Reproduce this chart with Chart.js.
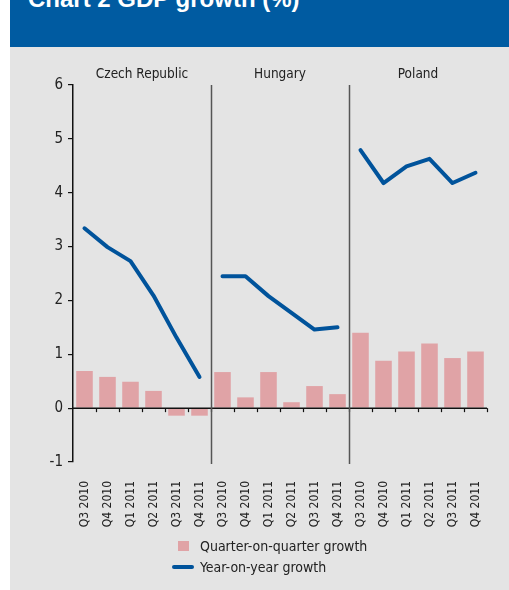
<!DOCTYPE html>
<html>
<head>
<meta charset="utf-8">
<script src="https://cdn.jsdelivr.net/npm/chart.js@4.4.1/dist/chart.umd.min.js"></script>
<style>
  body { margin: 0; width: 509px; height: 590px; background: #fff; position: relative; overflow: hidden; font-family: 'Liberation Sans Narrow', 'DejaVu Sans Condensed', sans-serif; }
  #cabecera { position: absolute; left: 10px; top: 0; width: 499px; height: 47px; background: #005ba1; overflow: hidden; }
  #cabecera span { position: absolute; left: 18px; top: -15px; color: #fff; font: bold 24px 'Liberation Sans', sans-serif; white-space: nowrap; }
  #panel { position: absolute; left: 10px; top: 47px; width: 499px; height: 543px; background: #e4e4e4; }
  #caja { position: absolute; left: 0; top: 0; width: 499px; height: 500px; }
  #leyenda { position: absolute; left: 162px; top: 488px; font-size: 14px; color: #222; }
  .item { display: flex; align-items: center; height: 21px; }
  .muestra { width: 22px; height: 21px; display: flex; align-items: center; justify-content: center; margin-right: 6px; }
</style>
</head>
<body>
<div id="cabecera"><span>Chart 2 GDP growth (%)</span></div>
<div id="panel">
  <div id="caja"><canvas id="grafica"></canvas></div>
  <div id="leyenda"></div>
</div>
<script>
const quarters = ['Q3 2010', 'Q4 2010', 'Q1 2011', 'Q2 2011', 'Q3 2011', 'Q4 2011'];
const countries = ['Czech Republic', 'Hungary', 'Poland'];

// quarter-on-quarter growth (bars)
const qoqCzech = [0.69, 0.58, 0.49, 0.32, -0.14, -0.14];
const qoqHungary = [0.67, 0.20, 0.67, 0.11, 0.41, 0.26];
const qoqPoland = [1.40, 0.88, 1.05, 1.20, 0.93, 1.05];

// year-on-year growth (line)
const yoyCzech = [3.34, 2.99, 2.73, 2.09, 1.31, 0.58];
const yoyHungary = [2.45, 2.45, 2.08, 1.77, 1.46, 1.50];
const yoyPoland = [4.79, 4.18, 4.49, 4.63, 4.18, 4.37];

const yMin = -1;
const yMax = 6;

const azul = '#00539b';
const rosa = '#e0a3a6';
const fuente = "'Liberation Sans Narrow', 'DejaVu Sans Condensed', sans-serif";

const etiquetas = countries.flatMap(() => quarters);
const barras = [...qoqCzech, ...qoqHungary, ...qoqPoland];
const linea = [...yoyCzech, ...yoyHungary, ...yoyPoland];

// linea de cero, marcas, separadores y nombres de pais
const grupos = {
  id: 'grupos',
  afterDatasetsDraw(chart) {
    const { ctx, chartArea, scales: { x, y } } = chart;
    const paso = x.getPixelForValue(1) - x.getPixelForValue(0);
    const y0 = y.getPixelForValue(0);
    ctx.save();
    ctx.strokeStyle = '#111';
    ctx.lineWidth = 1.5;
    ctx.beginPath();
    ctx.moveTo(chartArea.left, y0);
    ctx.lineTo(chartArea.right, y0);
    ctx.stroke();

    ctx.lineWidth = 1.2;
    for (let i = 1; i <= etiquetas.length; i++) {
      const px = Math.round(x.getPixelForValue(i - 1) + paso / 2) + 0.5;
      ctx.beginPath();
      ctx.moveTo(px, y0);
      ctx.lineTo(px, y0 + 4);
      ctx.stroke();
    }

    ctx.strokeStyle = '#555';
    ctx.lineWidth = 1.5;
    for (let g = 1; g < countries.length; g++) {
      const px = Math.round(x.getPixelForValue(g * quarters.length - 1) + paso / 2) + 0.5;
      ctx.beginPath();
      ctx.moveTo(px, chartArea.top);
      ctx.lineTo(px, chartArea.bottom + 2);
      ctx.stroke();
    }

    ctx.fillStyle = '#222';
    ctx.font = '13.5px ' + fuente;
    ctx.textAlign = 'center';
    ctx.textBaseline = 'middle';
    countries.forEach((pais, g) => {
      const cx = (x.getPixelForValue(g * quarters.length) + x.getPixelForValue((g + 1) * quarters.length - 1)) / 2;
      ctx.fillText(pais, cx, chartArea.top - 11);
    });
    ctx.restore();
  }
};

const grafica = new Chart(document.getElementById('grafica'), {
  data: {
    labels: etiquetas,
    datasets: [
      {
        type: 'bar', label: 'Quarter-on-quarter growth', data: barras,
        backgroundColor: rosa, barPercentage: 0.72, categoryPercentage: 1, order: 1
      },
      {
        type: 'line', label: 'Year-on-year growth', data: linea,
        borderColor: azul, borderWidth: 4, pointRadius: 0, tension: 0,
        borderCapStyle: 'round', borderJoinStyle: 'round', order: 0,
        segment: { borderColor: c => (c.p0DataIndex + 1) % quarters.length === 0 ? 'transparent' : azul }
      }
    ]
  },
  options: {
    responsive: true,
    maintainAspectRatio: false,
    animation: false,
    layout: { padding: { left: 0, top: 38, right: 22, bottom: 0 } },
    plugins: { legend: { display: false }, tooltip: { enabled: false } },
    scales: {
      x: {
        grid: { display: false },
        border: { display: false },
        ticks: { color: '#222', font: { family: fuente, size: 12 }, minRotation: 90, maxRotation: 90, autoSkip: false, padding: 11 },
        afterFit: s => { s.height = 85; }
      },
      y: {
        min: yMin, max: yMax,
        grid: { drawOnChartArea: false, drawTicks: true, tickLength: 5, color: '#111', lineWidth: 1.2 },
        border: { display: true, color: '#111', width: 1.5 },
        ticks: { stepSize: 1, color: '#222', font: { family: fuente, size: 15 }, padding: 5 },
        afterFit: s => { s.width = 63; }
      }
    }
  },
  plugins: [grupos]
});

// leyenda en html, una entrada por fila
const leyenda = document.getElementById('leyenda');
leyenda.innerHTML = grafica.data.datasets.map(d => {
  const muestra = d.type === 'bar'
    ? `<span style="width:11px;height:10px;background:${d.backgroundColor}"></span>`
    : `<span style="width:22px;height:4px;border-radius:2px;background:${d.borderColor}"></span>`;
  return `<div class="item"><span class="muestra">${muestra}</span><span>${d.label}</span></div>`;
}).join('');
</script>
</body>
</html>
